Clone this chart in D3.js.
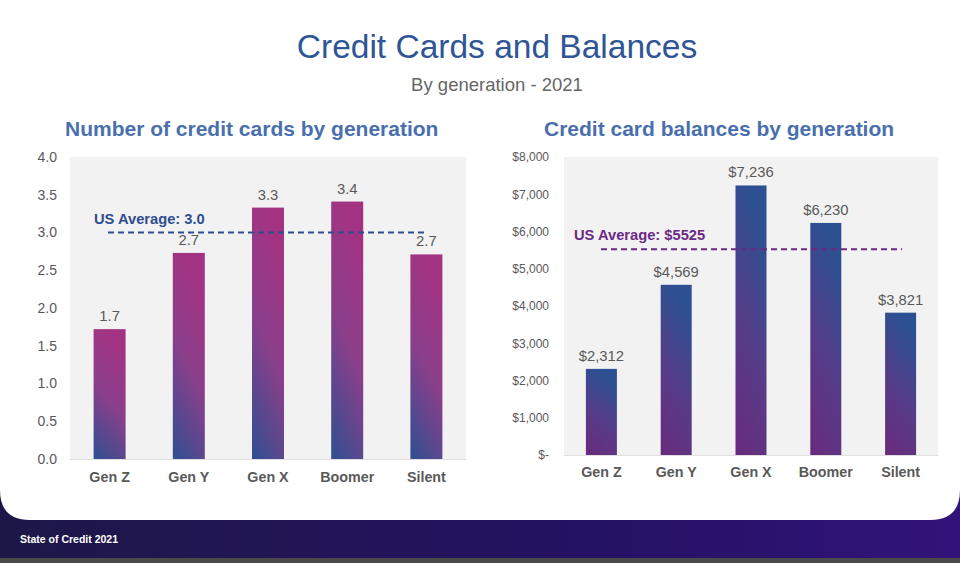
<!DOCTYPE html>
<html><head><meta charset="utf-8">
<script src="https://cdn.jsdelivr.net/npm/d3@7"></script>
<style>
html,body{margin:0;padding:0;background:#fff;}
svg{display:block;font-family:"Liberation Sans",Arial,sans-serif;}
</style></head>
<body>
<svg id="chart" width="960" height="563"></svg>
<script>
const categories = ["Gen Z","Gen Y","Gen X","Boomer","Silent"];
const cardCounts = [1.72, 2.73, 3.33, 3.41, 2.71];
const cardTicks = [0,0.5,1,1.5,2,2.5,3,3.5,4];
const cardAverage = 3.0;
const balances = [2312, 4569, 7236, 6230, 3821];
const balanceTicks = [0,1000,2000,3000,4000,5000,6000,7000,8000];
const balanceAverage = 5525;

const svg = d3.select("#chart");
const defs = svg.append("defs");

// footer
const fg = defs.append("linearGradient").attr("id","footerGrad").attr("x1","0").attr("y1","0").attr("x2","1").attr("y2","0");
fg.append("stop").attr("offset","0").attr("stop-color","#1d1747");
fg.append("stop").attr("offset","0.6").attr("stop-color","#241262");
fg.append("stop").attr("offset","1").attr("stop-color","#32137a");
svg.append("rect").attr("x",0).attr("y",490).attr("width",960).attr("height",68).attr("fill","url(#footerGrad)");
svg.append("rect").attr("x",0).attr("y",558).attr("width",960).attr("height",5).attr("fill","#4a4a4a");
svg.append("path").attr("d","M0,0 H960 V490 Q960,520 930,520 H30 Q0,520 0,490 Z").attr("fill","#fff");
svg.append("text").attr("x",20).attr("y",543).attr("fill","#fff").attr("font-size","10.5px").attr("font-weight","bold").text("State of Credit 2021");

// bar gradients
const g1 = defs.append("linearGradient").attr("id","gradLeft").attr("x1","0.3").attr("y1","0").attr("x2","0").attr("y2","1");
g1.append("stop").attr("offset","0").attr("stop-color","#a23383");
g1.append("stop").attr("offset","0.45").attr("stop-color","#8a3f8a");
g1.append("stop").attr("offset","1").attr("stop-color","#2e4f92");
const g2 = defs.append("linearGradient").attr("id","gradRight").attr("x1","0.3").attr("y1","0").attr("x2","0").attr("y2","1");
g2.append("stop").attr("offset","0").attr("stop-color","#2d5092");
g2.append("stop").attr("offset","0.5").attr("stop-color","#573c88");
g2.append("stop").attr("offset","1").attr("stop-color","#6a2a7c");

// titles
svg.append("text").attr("x",497).attr("y",58).attr("text-anchor","middle").attr("fill","#2f5597").attr("font-size","33.5px").text("Credit Cards and Balances");
svg.append("text").attr("x",497).attr("y",91).attr("text-anchor","middle").attr("fill","#666").attr("font-size","18.5px").text("By generation - 2021");

function drawChart(opts){
  const {x0,x1,y0,y1,values,ticks,max,tickFmt,labelFmt,grad,avg,avgLabel,avgColor,avgX0,avgX1,avgLabelX,title,titleX,tickSize,barW} = opts;
  const g = svg.append("g");
  g.append("text").attr("x",titleX).attr("y",136).attr("fill","#4a6fae").attr("font-size","21px").attr("font-weight","bold").text(title);
  g.append("rect").attr("x",x0).attr("y",y1).attr("width",x1-x0).attr("height",y0-y1).attr("fill","#f2f2f2");
  const x = d3.scaleBand().domain(categories).range([x0,x1]);
  const y = d3.scaleLinear().domain([0,max]).range([y0,y1]);
  const yAxis = d3.axisLeft(y).tickValues(ticks).tickFormat(tickFmt).tickSize(0).tickPadding(0);
  const ya = g.append("g").attr("transform",`translate(${opts.tickX},0)`).call(yAxis);
  ya.select(".domain").remove();
  ya.selectAll("text").attr("fill","#595959").attr("font-size",tickSize).attr("font-family","Liberation Sans, Arial, sans-serif");
  const xAxis = d3.axisBottom(x).tickSize(0).tickPadding(0);
  const xa = g.append("g").attr("transform",`translate(0,${opts.xLabelY})`).call(xAxis);
  xa.select(".domain").remove();
  xa.selectAll("text").attr("fill","#595959").attr("font-size","14.3px").attr("font-weight","bold").attr("font-family","Liberation Sans, Arial, sans-serif");
  g.append("line").attr("x1",x0).attr("x2",x1).attr("y1",y0+0.5).attr("y2",y0+0.5).attr("stroke","#e0e0e0");
  g.selectAll("rect.bar").data(values).enter().append("rect").attr("class","bar")
    .attr("x",(d,i)=>x(categories[i])+x.bandwidth()/2-barW/2)
    .attr("width",barW)
    .attr("y",d=>y(d)).attr("height",d=>y0-y(d))
    .attr("fill",grad);
  g.selectAll("text.val").data(values).enter().append("text").attr("class","val")
    .attr("x",(d,i)=>x(categories[i])+x.bandwidth()/2)
    .attr("y",d=>y(d)-8).attr("text-anchor","middle").attr("fill","#595959").attr("font-size","14.8px")
    .text(labelFmt);
  g.append("line").attr("x1",avgX0).attr("x2",avgX1).attr("y1",y(avg)).attr("y2",y(avg))
    .attr("stroke",avgColor).attr("stroke-width",2).attr("stroke-dasharray","6,4");
  g.append("text").attr("x",avgLabelX).attr("y",y(avg)-opts.avgOff).attr("fill",avgColor).attr("font-size","14.7px").attr("font-weight","bold").text(avgLabel);
}

drawChart({x0:70,x1:466,y0:459,y1:157,values:cardCounts,ticks:cardTicks,max:4,
  tickFmt:d3.format(".1f"),labelFmt:d3.format(".1f"),grad:"url(#gradLeft)",
  avg:cardAverage,avgLabel:"US Average: 3.0",avgColor:"#2f4d8f",avgX0:108,avgX1:427,avgLabelX:94,avgOff:9,
  title:"Number of credit cards by generation",titleX:65,tickSize:"14px",barW:32,tickX:57,xLabelY:472});

const dollar = d => d===0 ? "$-" : "$" + d3.format(",")(d);
drawChart({x0:564,x1:938,y0:455,y1:157,values:balances,ticks:balanceTicks,max:8000,
  tickFmt:dollar,labelFmt:d=>"$"+d3.format(",")(d),grad:"url(#gradRight)",
  avg:balanceAverage,avgLabel:"US Average: $5525",avgColor:"#6b2a84",avgX0:601,avgX1:902,avgLabelX:574,avgOff:9,
  title:"Credit card balances by generation",titleX:544,tickSize:"12px",barW:31,tickX:549,xLabelY:467});
</script>
</body></html>
